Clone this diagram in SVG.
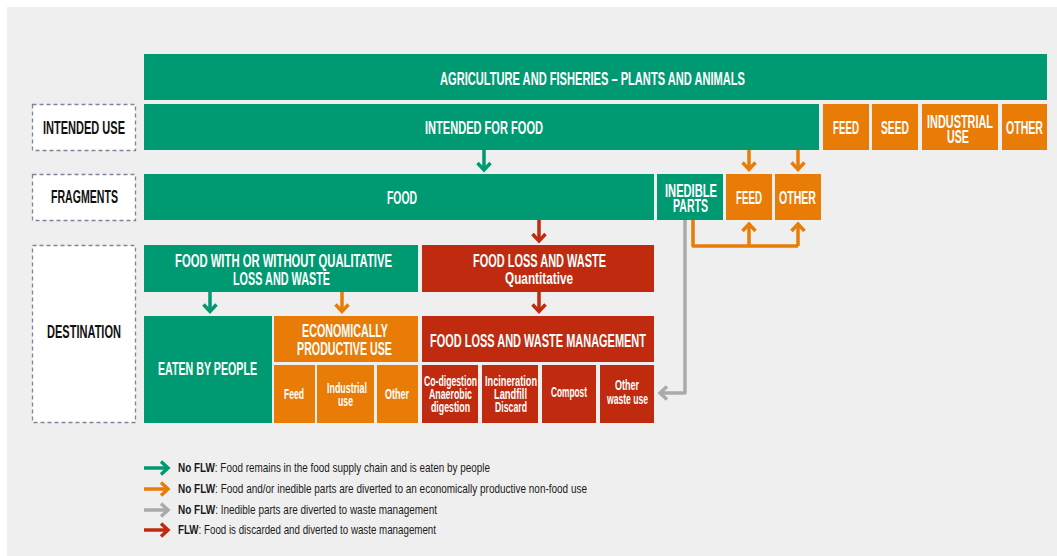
<svg xmlns="http://www.w3.org/2000/svg" width="1057" height="556" viewBox="0 0 1057 556">
<style>
text{font-family:'Liberation Sans Narrow','Liberation Sans',Arial,sans-serif;font-weight:bold;text-anchor:middle}
.w{fill:#fff;font-size:17.5px}
.s{fill:#fff;font-size:15px}
.k{fill:#111;font-size:17.5px}
.lg{fill:#1a1a1a;font-size:13.5px;text-anchor:start;font-weight:normal}
.lg tspan.b{font-weight:bold}
.g{fill:#009a72}
.o{fill:#e97c07}
.r{fill:#c02b10}
.lbl{fill:#fff;stroke:#7d8597;stroke-width:1.3;stroke-dasharray:4 3}
.c{fill:none;stroke-width:3.5;stroke-linejoin:round}
.cg{stroke:#009a72}.co{stroke:#e97c07}.cr{stroke:#c02b10}.cy{stroke:#aaaaaa}
</style>
<defs>
<marker id="ag" markerUnits="userSpaceOnUse" viewBox="-10 -9 12 18" markerWidth="12" markerHeight="18" refX="0" refY="0" orient="auto" overflow="visible"><path d="M-7,-6.5 L0,0 L-7,6.5" fill="none" stroke="#009a72" stroke-width="3.5"/></marker>
<marker id="ao" markerUnits="userSpaceOnUse" viewBox="-10 -9 12 18" markerWidth="12" markerHeight="18" refX="0" refY="0" orient="auto" overflow="visible"><path d="M-7,-6.5 L0,0 L-7,6.5" fill="none" stroke="#e97c07" stroke-width="3.5"/></marker>
<marker id="ar" markerUnits="userSpaceOnUse" viewBox="-10 -9 12 18" markerWidth="12" markerHeight="18" refX="0" refY="0" orient="auto" overflow="visible"><path d="M-7,-6.5 L0,0 L-7,6.5" fill="none" stroke="#c02b10" stroke-width="3.5"/></marker>
<marker id="ay" markerUnits="userSpaceOnUse" viewBox="-10 -9 12 18" markerWidth="12" markerHeight="18" refX="0" refY="0" orient="auto" overflow="visible"><path d="M-7,-6.5 L0,0 L-7,6.5" fill="none" stroke="#aaaaaa" stroke-width="3.5"/></marker>
</defs>
<rect x="0" y="0" width="1057" height="556" fill="#fff"/>
<rect x="7" y="7" width="1050" height="549" fill="#efefef"/>

<g id="label-intended-use"><rect class="lbl" x="32.5" y="104.5" width="103" height="46"/><text class="k" x="84" y="134" textLength="82" lengthAdjust="spacingAndGlyphs">INTENDED USE</text></g>
<g id="label-fragments"><rect class="lbl" x="32.5" y="174.5" width="103" height="46"/><text class="k" x="84.5" y="203" textLength="67" lengthAdjust="spacingAndGlyphs">FRAGMENTS</text></g>
<g id="label-destination"><rect class="lbl" x="32.5" y="245.5" width="103" height="177"/><text class="k" x="84" y="338" textLength="74" lengthAdjust="spacingAndGlyphs">DESTINATION</text></g>

<g id="agriculture"><rect class="g" x="144" y="54" width="903" height="46"/><text class="w" x="592.5" y="85" textLength="305" lengthAdjust="spacingAndGlyphs">AGRICULTURE AND FISHERIES – PLANTS AND ANIMALS</text></g>
<g id="intended-for-food"><rect class="g" x="144" y="104" width="675" height="46"/><text class="w" x="484" y="134" textLength="118" lengthAdjust="spacingAndGlyphs">INTENDED FOR FOOD</text></g>
<g id="use-feed"><rect class="o" x="823" y="104" width="46" height="46"/><text class="w" x="846" y="134" textLength="26" lengthAdjust="spacingAndGlyphs">FEED</text></g>
<g id="use-seed"><rect class="o" x="872" y="104" width="46" height="46"/><text class="w" x="895" y="134" textLength="28" lengthAdjust="spacingAndGlyphs">SEED</text></g>
<g id="use-industrial"><rect class="o" x="922" y="104" width="76" height="46"/><text class="w" x="960" y="128" textLength="66" lengthAdjust="spacingAndGlyphs">INDUSTRIAL</text><text class="w" x="958" y="143" textLength="22" lengthAdjust="spacingAndGlyphs">USE</text></g>
<g id="use-other"><rect class="o" x="1002" y="104" width="45" height="46"/><text class="w" x="1024.5" y="134" textLength="37" lengthAdjust="spacingAndGlyphs">OTHER</text></g>

<g id="food"><rect class="g" x="144" y="174" width="510" height="46"/><text class="w" x="402" y="204" textLength="30" lengthAdjust="spacingAndGlyphs">FOOD</text></g>
<g id="inedible-parts"><rect class="g" x="657" y="174" width="66" height="46"/><text class="w" x="691" y="197" textLength="52" lengthAdjust="spacingAndGlyphs">INEDIBLE</text><text class="w" x="690.5" y="212" textLength="35" lengthAdjust="spacingAndGlyphs">PARTS</text></g>
<g id="frag-feed"><rect class="o" x="726" y="174" width="46" height="46"/><text class="w" x="749" y="204" textLength="26" lengthAdjust="spacingAndGlyphs">FEED</text></g>
<g id="frag-other"><rect class="o" x="775" y="174" width="46" height="46"/><text class="w" x="797.5" y="204" textLength="37" lengthAdjust="spacingAndGlyphs">OTHER</text></g>

<g id="food-qualitative"><rect class="g" x="144" y="245" width="274" height="47"/><text class="w" x="283.5" y="267" textLength="217" lengthAdjust="spacingAndGlyphs">FOOD WITH OR WITHOUT QUALITATIVE</text><text class="w" x="281.5" y="285" textLength="97" lengthAdjust="spacingAndGlyphs">LOSS AND WASTE</text></g>
<g id="flw-quantitative"><rect class="r" x="422" y="245" width="232" height="47"/><text class="w" x="539.5" y="267" textLength="133" lengthAdjust="spacingAndGlyphs">FOOD LOSS AND WASTE</text><text class="w" x="539" y="284" style="font-size:16px" textLength="68" lengthAdjust="spacingAndGlyphs">Quantitative</text></g>

<g id="eaten-by-people"><rect class="g" x="144" y="316" width="128" height="107"/><text class="w" x="207.5" y="375" textLength="99" lengthAdjust="spacingAndGlyphs">EATEN BY PEOPLE</text></g>
<g id="economically-productive"><rect class="o" x="274" y="316" width="144" height="46"/><text class="w" x="345" y="337" textLength="86" lengthAdjust="spacingAndGlyphs">ECONOMICALLY</text><text class="w" x="344.5" y="355" textLength="95" lengthAdjust="spacingAndGlyphs">PRODUCTIVE USE</text></g>
<g id="ep-feed"><rect class="o" x="274" y="365" width="41" height="58"/><text class="s" x="294" y="399" textLength="20" lengthAdjust="spacingAndGlyphs">Feed</text></g>
<g id="ep-industrial"><rect class="o" x="317" y="365" width="57" height="58"/><text class="s" x="347" y="393" textLength="40" lengthAdjust="spacingAndGlyphs">Industrial</text><text class="s" x="345.5" y="406" textLength="15" lengthAdjust="spacingAndGlyphs">use</text></g>
<g id="ep-other"><rect class="o" x="377" y="365" width="41" height="58"/><text class="s" x="397" y="399" textLength="24" lengthAdjust="spacingAndGlyphs">Other</text></g>

<g id="flw-management"><rect class="r" x="422" y="316" width="232" height="46"/><text class="w" x="538" y="347" textLength="216" lengthAdjust="spacingAndGlyphs">FOOD LOSS AND WASTE MANAGEMENT</text></g>
<g id="m-codigestion"><rect class="r" x="422" y="365" width="56" height="58"/><text class="s" x="450.5" y="386" textLength="53" lengthAdjust="spacingAndGlyphs">Co-digestion</text><text class="s" x="450.5" y="399" textLength="43" lengthAdjust="spacingAndGlyphs">Anaerobic</text><text class="s" x="450.5" y="412" textLength="39" lengthAdjust="spacingAndGlyphs">digestion</text></g>
<g id="m-incineration"><rect class="r" x="482" y="365" width="56" height="58"/><text class="s" x="511" y="386" textLength="52" lengthAdjust="spacingAndGlyphs">Incineration</text><text class="s" x="510.5" y="399" textLength="33" lengthAdjust="spacingAndGlyphs">Landfill</text><text class="s" x="511" y="412" textLength="32" lengthAdjust="spacingAndGlyphs">Discard</text></g>
<g id="m-compost"><rect class="r" x="542" y="365" width="54" height="58"/><text class="s" x="569" y="397" textLength="36" lengthAdjust="spacingAndGlyphs">Compost</text></g>
<g id="m-other"><rect class="r" x="600" y="365" width="54" height="58"/><text class="s" x="627" y="390" textLength="24" lengthAdjust="spacingAndGlyphs">Other</text><text class="s" x="627.5" y="404" textLength="41" lengthAdjust="spacingAndGlyphs">waste use</text></g>

<g id="connectors">
<path class="c cg" d="M484,150 V170" marker-end="url(#ag)"/>
<path class="c co" d="M749,150 V169.5" marker-end="url(#ao)"/>
<path class="c co" d="M798,150 V169.5" marker-end="url(#ao)"/>
<path class="c cr" d="M539,220 V241" marker-end="url(#ar)"/>
<path class="c cg" d="M210,292 V311.5" marker-end="url(#ag)"/>
<path class="c co" d="M342,292 V311.5" marker-end="url(#ao)"/>
<path class="c cr" d="M539,292 V311.5" marker-end="url(#ar)"/>
<path class="c co" d="M693,220 V246 H798"/>
<path class="c co" d="M749,246 V224" marker-end="url(#ao)"/>
<path class="c co" d="M798,246 V224" marker-end="url(#ao)"/>
<path class="c cy" d="M685,220 V393 H660" marker-end="url(#ay)"/>
</g>

<g id="legend">
<path class="c cg" d="M144,468 H168" marker-end="url(#ag)"/>
<path class="c co" d="M144,489 H168" marker-end="url(#ao)"/>
<path class="c cy" d="M144,510 H168" marker-end="url(#ay)"/>
<path class="c cr" d="M144,530 H168" marker-end="url(#ar)"/>
<text class="lg" x="178" y="472" textLength="312" lengthAdjust="spacingAndGlyphs"><tspan class="b">No FLW</tspan>: Food remains in the food supply chain and is eaten by people</text>
<text class="lg" x="178" y="493" textLength="409" lengthAdjust="spacingAndGlyphs"><tspan class="b">No FLW</tspan>: Food and/or inedible parts are diverted to an economically productive non-food use</text>
<text class="lg" x="178" y="514" textLength="259" lengthAdjust="spacingAndGlyphs"><tspan class="b">No FLW</tspan>: Inedible parts are diverted to waste management</text>
<text class="lg" x="178" y="534" textLength="258" lengthAdjust="spacingAndGlyphs"><tspan class="b">FLW</tspan>: Food is discarded and diverted to waste management</text>
</g>
</svg>
